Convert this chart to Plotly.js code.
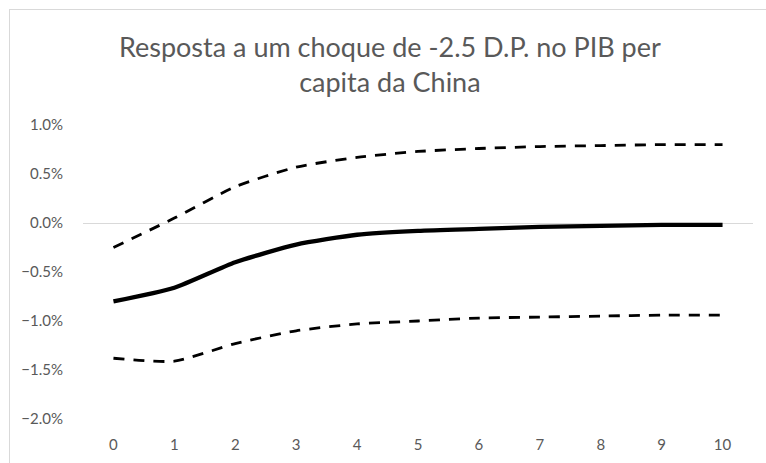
<!DOCTYPE html>
<html>
<head>
<meta charset="utf-8">
<script src="https://cdn.plot.ly/plotly-3.0.1.min.js"></script>
<style>
  html, body { margin: 0; padding: 0; background: #fff; }
  #wrap { position: relative; width: 766px; height: 463px; overflow: hidden; }
  #chart { position: absolute; left: 0; top: 0; width: 766px; height: 463px; }
  #frame { position: absolute; left: 9px; top: 9px; width: 800px; height: 500px;
           border-left: 1px solid #d9d9d9; border-top: 1px solid #d9d9d9; pointer-events: none; }
</style>
</head>
<body>
<div id="wrap"><div id="chart"></div><div id="frame"></div></div>
<script>
const periods = [0, 1, 2, 3, 4, 5, 6, 7, 8, 9, 10];
const resposta = [-0.0080, -0.0066, -0.0040, -0.0022, -0.0012, -0.0008, -0.0006, -0.0004, -0.0003, -0.0002, -0.0002];
const limiteSuperior = [-0.0025, 0.0005, 0.0037, 0.0057, 0.0067, 0.0073, 0.0076, 0.0078, 0.0079, 0.0080, 0.0080];
const limiteInferior = [-0.0138, -0.0141, -0.0123, -0.0110, -0.0103, -0.0100, -0.0097, -0.0096, -0.0095, -0.0094, -0.0094];
const yTicks = [-0.02, -0.015, -0.01, -0.005, 0, 0.005, 0.01];

const fontFam = 'Lato, "Liberation Sans", sans-serif';
const traces = [
  { x: periods, y: limiteSuperior, mode: 'lines', line: { color: '#000', width: 2.8, dash: '11px,9px', shape: 'spline', smoothing: 0.6 }, hoverinfo: 'skip' },
  { x: periods, y: limiteInferior, mode: 'lines', line: { color: '#000', width: 2.8, dash: '11px,9px', shape: 'spline', smoothing: 0.6 }, hoverinfo: 'skip' },
  { x: periods, y: resposta, mode: 'lines', line: { color: '#000', width: 4.3, shape: 'spline', smoothing: 0.6 }, hoverinfo: 'skip' }
];
const layout = {
  width: 766, height: 463,
  margin: { l: 83, r: 13, t: 125, b: 44 },
  paper_bgcolor: '#fff', plot_bgcolor: '#fff',
  showlegend: false,
  title: {
    text: 'Resposta a um choque de -2.5 D.P. no PIB per<br>capita da China',
    x: 0.509, xanchor: 'center', y: 0.877, yanchor: 'top', yref: 'container',
    font: { family: fontFam, size: 27, color: '#595959' }
  },
  xaxis: {
    range: [-0.5, 10.5], tickvals: periods, ticktext: periods.map(String),
    showgrid: false, zeroline: false, showline: false,
    ticks: 'outside', ticklen: 12, tickcolor: 'rgba(0,0,0,0)',
    tickfont: { family: fontFam, size: 15, color: '#595959' }, fixedrange: true
  },
  yaxis: {
    range: [-0.02, 0.01], tickvals: yTicks, tickformat: '.1%',
    showgrid: false, zeroline: true, zerolinecolor: '#d9d9d9', zerolinewidth: 1, showline: false,
    ticks: 'outside', ticklen: 16, tickcolor: 'rgba(0,0,0,0)',
    tickfont: { family: fontFam, size: 15, color: '#595959' }, fixedrange: true
  }
};
Plotly.newPlot('chart', traces, layout, { displayModeBar: false, staticPlot: true });
</script>
</body>
</html>
